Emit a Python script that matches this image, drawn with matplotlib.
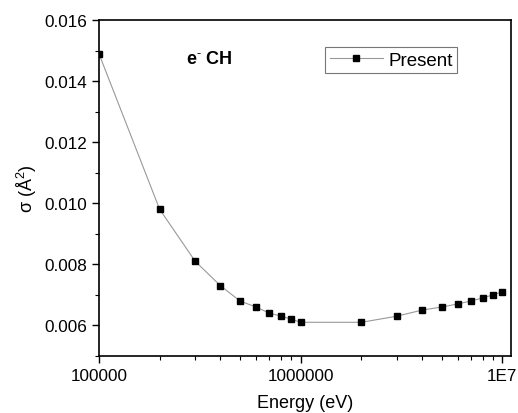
import numpy as np
import matplotlib
matplotlib.use('Agg')
import matplotlib.pyplot as plt
from matplotlib.ticker import FixedLocator, MultipleLocator, LogLocator, NullFormatter

plt.rcParams['font.family'] = ['Liberation Sans', 'DejaVu Sans']
plt.rcParams['mathtext.fontset'] = 'custom'
plt.rcParams['mathtext.rm'] = 'Liberation Sans'
plt.rcParams['mathtext.bf'] = 'Liberation Sans:bold'
plt.rcParams['mathtext.it'] = 'Liberation Sans:italic'

# data
energy = [1e5, 2e5, 3e5, 4e5, 5e5, 6e5, 7e5, 8e5, 9e5, 1e6,
          2e6, 3e6, 4e6, 5e6, 6e6, 7e6, 8e6, 9e6, 1e7]
sigma = [0.0149, 0.0098, 0.0081, 0.0073, 0.0068, 0.0066, 0.0064, 0.0063, 0.0062, 0.0061,
         0.0061, 0.0063, 0.0065, 0.0066, 0.0067, 0.0068, 0.0069, 0.0070, 0.0071]
x_ticks = [1e5, 1e6, 1e7]
x_ticklabels = ['100000', '1000000', '1E7']
y_ticks = [0.006, 0.008, 0.010, 0.012, 0.014, 0.016]

fig = plt.figure(figsize=(5.18, 4.14), dpi=100)
ax = fig.add_axes([0.191, 0.138, 0.795, 0.811])

ax.plot(energy, sigma, color='#999999', linewidth=0.8, marker='s',
        markersize=5, markerfacecolor='black', markeredgecolor='black',
        label='Present')

ax.set_xscale('log')
ax.set_xlim(1e5, 1.1e7)
ax.set_ylim(0.005, 0.016)

ax.xaxis.set_major_locator(FixedLocator(x_ticks))
ax.set_xticklabels(x_ticklabels)
ax.xaxis.set_minor_locator(LogLocator(base=10, subs=np.arange(2, 10)))
ax.xaxis.set_minor_formatter(NullFormatter())
ax.set_yticks(y_ticks)
ax.set_yticklabels(['%.3f' % v for v in y_ticks])
ax.yaxis.set_minor_locator(MultipleLocator(0.001))

ax.tick_params(which='major', direction='out', length=5, width=1, labelsize=12.3,
               top=False, right=False)
ax.tick_params(which='minor', direction='out', length=3, width=0.8,
               top=False, right=False)
for s in ax.spines.values():
    s.set_linewidth(1.2)

ax.set_xlabel('Energy (eV)', fontsize=13, labelpad=8)
ax.set_ylabel('σ (Å$^{2}$)', fontsize=13)

ax.text(0.267, 0.887, r'e$^{\mathbf{\text{-}}}$ CH', transform=ax.transAxes,
        fontsize=13, fontweight='bold', ha='center', va='center')

leg = ax.legend(loc='upper left', bbox_to_anchor=(0.55, 0.92), fontsize=13.5,
                frameon=True, fancybox=False, edgecolor='#555555',
                handlelength=2.8, borderpad=0.25, handletextpad=0.3,
                borderaxespad=0)
leg.get_frame().set_linewidth(0.8)

fig.savefig('out.png', dpi=100)
